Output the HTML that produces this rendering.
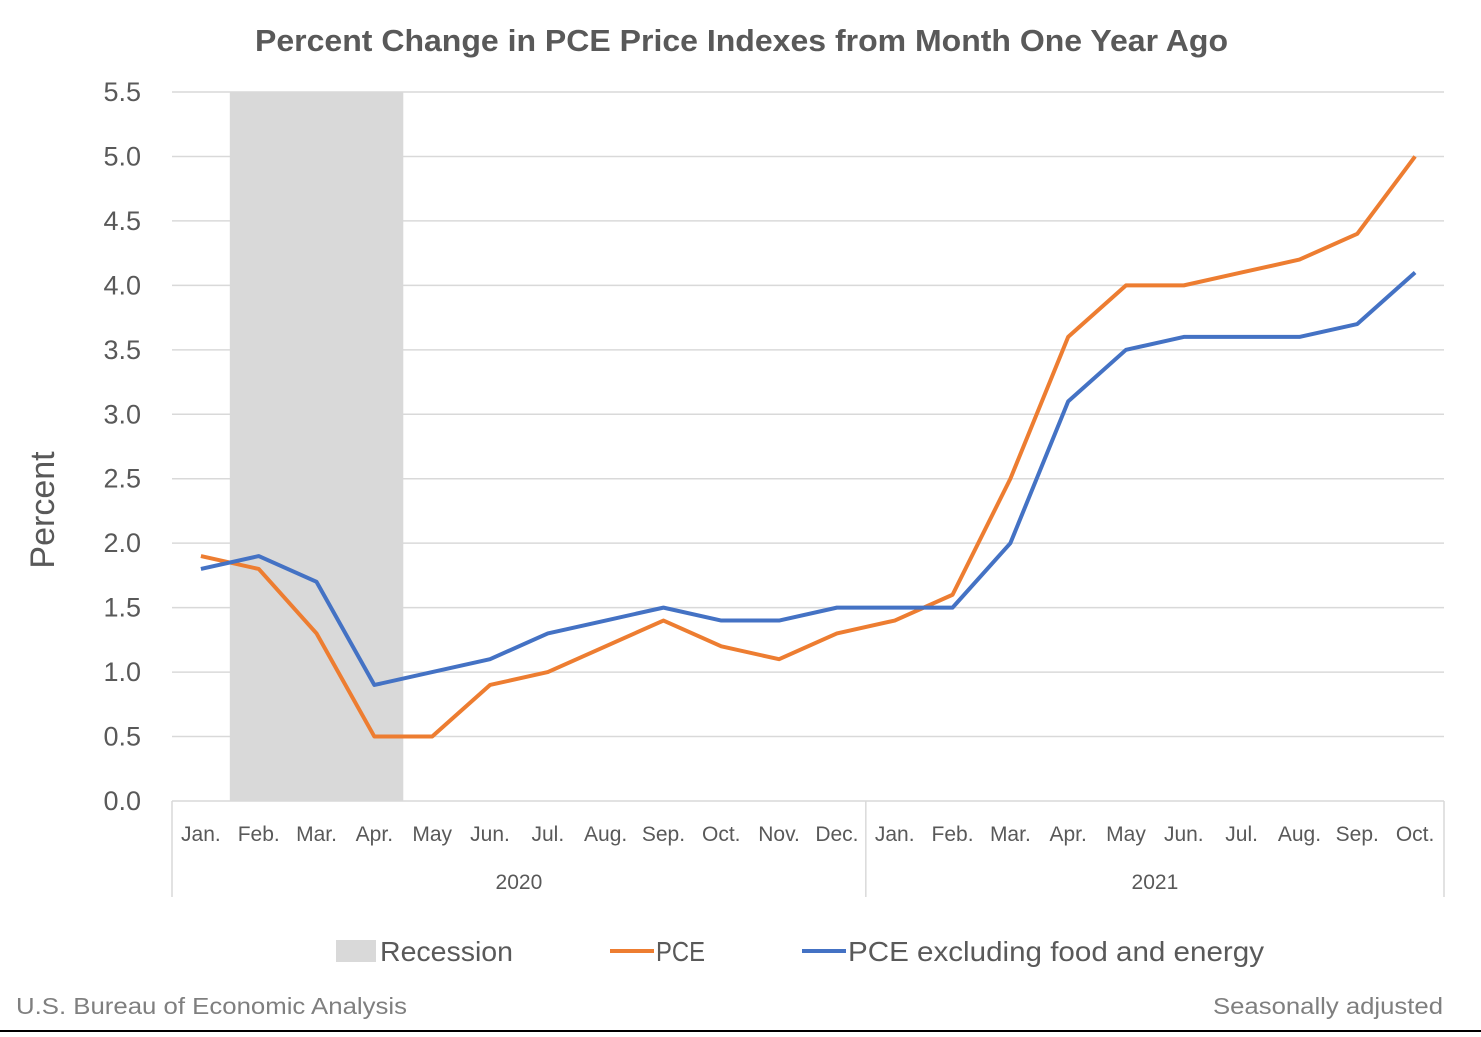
<!DOCTYPE html>
<html><head><meta charset="utf-8"><style>
body{margin:0;background:#fff;}
svg text{font-family:"Liberation Sans",sans-serif;}
</style></head><body>
<svg width="1481" height="1032" viewBox="0 0 1481 1032">
<rect x="0" y="0" width="1481" height="1032" fill="#fff"/>
<line x1="0" y1="1031" x2="1481" y2="1031" stroke="#000" stroke-width="2"/>
<text x="255" y="51" textLength="973" lengthAdjust="spacingAndGlyphs" font-size="31" font-weight="bold" fill="#595959">Percent Change in PCE Price Indexes from Month One Year Ago</text>
<g id="plot"></g>
<text transform="translate(54,510) rotate(-90)" text-anchor="middle" font-size="34" fill="#595959">Percent</text>
<g>
<rect x="336" y="940" width="40" height="22" fill="#d9d9d9"/>
<text x="380" y="961" textLength="133" lengthAdjust="spacingAndGlyphs" font-size="28" fill="#595959">Recession</text>
<line x1="610" y1="951" x2="654" y2="951" stroke="#ed7d31" stroke-width="4"/>
<text x="656" y="961" textLength="49" lengthAdjust="spacingAndGlyphs" font-size="28" fill="#595959">PCE</text>
<line x1="802" y1="951" x2="846" y2="951" stroke="#4472c4" stroke-width="4"/>
<text x="848" y="961" textLength="416" lengthAdjust="spacingAndGlyphs" font-size="28" fill="#595959">PCE excluding food and energy</text>
</g>
<text x="16" y="1014" textLength="391" lengthAdjust="spacingAndGlyphs" font-size="23" fill="#7f7f7f">U.S. Bureau of Economic Analysis</text>
<text x="1213" y="1014" textLength="230" lengthAdjust="spacingAndGlyphs" font-size="23" fill="#7f7f7f">Seasonally adjusted</text>
</svg>
<script>
const months=["Jan.","Feb.","Mar.","Apr.","May","Jun.","Jul.","Aug.","Sep.","Oct.","Nov.","Dec.","Jan.","Feb.","Mar.","Apr.","May","Jun.","Jul.","Aug.","Sep.","Oct."];
const years=["2020","2021"];
const yearCounts=[12,10];
const pce=[1.9,1.8,1.3,0.5,0.5,0.9,1.0,1.2,1.4,1.2,1.1,1.3,1.4,1.6,2.5,3.6,4.0,4.0,4.1,4.2,4.4,5.0];
const core=[1.8,1.9,1.7,0.9,1.0,1.1,1.3,1.4,1.5,1.4,1.4,1.5,1.5,1.5,2.0,3.1,3.5,3.6,3.6,3.6,3.7,4.1];
const yTicks=[0,0.5,1,1.5,2,2.5,3,3.5,4,4.5,5,5.5];
const recession=[1,3];
const NS="http://www.w3.org/2000/svg";
const g=document.getElementById('plot');
const X0=172,X1=1444,Y0=801,Y1=92,YMAX=5.5;
const cw=(X1-X0)/months.length;
const xc=i=>X0+cw*(i+0.5);
const xe=i=>X0+cw*i;
const y=v=>Y0-(v/YMAX)*(Y0-Y1);
function mk(t,a){const e=document.createElementNS(NS,t);for(const k in a)e.setAttribute(k,a[k]);g.appendChild(e);return e;}
const r=mk('rect',{x:xe(recession[0]),y:y(YMAX),width:xe(recession[1]+1)-xe(recession[0]),height:y(0)-y(YMAX),fill:'#d9d9d9'});


yTicks.forEach(v=>{
 if(v>0){const l=mk('line',{x1:X0,x2:X1,y1:y(v),y2:y(v),stroke:'#d9d9d9','stroke-width':1.5});
 
 }
 const t=mk('text',{x:141,y:y(v)+9,'text-anchor':'end','font-size':27,fill:'#595959'});
 t.textContent=v.toFixed(1);
 
 
});
const ax=mk('line',{x1:X0,x2:X1,y1:Y0,y2:Y0,stroke:'#d9d9d9','stroke-width':1.5});


months.forEach((m,i)=>{
 const t=mk('text',{x:xc(i),y:841,'text-anchor':'middle','font-size':21,fill:'#595959'});
 t.textContent=m;
 
 
});
let start=0;
const bnd=[0];
years.forEach((yr,k)=>{
 const end=start+yearCounts[k];
 bnd.push(end);
 const t=mk('text',{x:(xe(start)+xe(end))/2,y:889,'text-anchor':'middle','font-size':21,fill:'#595959'});
 t.textContent=yr;
 
 
 start=end;
});
bnd.forEach(b=>{
 const l=mk('line',{x1:xe(b),x2:xe(b),y1:Y0,y2:897,stroke:'#d9d9d9','stroke-width':1.5});
 
 
});
function series(d,c,n){
 const p=mk('polyline',{points:d.map((v,i)=>xc(i)+','+y(v)).join(' '),fill:'none',stroke:c,'stroke-width':4,'stroke-linejoin':'round'});
 
 
}
series(pce,'#ed7d31','pce-line');
series(core,'#4472c4','core-pce-line');
</script>
</body></html>
